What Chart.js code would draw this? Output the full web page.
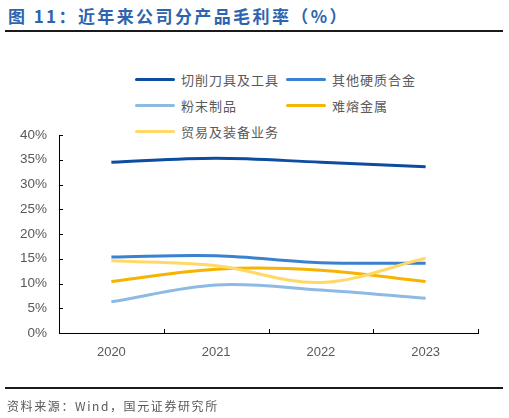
<!DOCTYPE html>
<html>
<head>
<meta charset="utf-8">
<script src="https://cdn.jsdelivr.net/npm/chart.js@4"></script>
<style>
  body { margin: 0; width: 509px; height: 418px; background: #fff; position: relative; overflow: hidden; font-family: "Noto Sans CJK SC", sans-serif; }
  #title { position: absolute; left: 8px; top: 3px; font-size: 17px; font-weight: bold; color: #2E64AE; letter-spacing: 2.4px; white-space: nowrap; }
  .rule { position: absolute; left: 5px; width: 498px; height: 2px; background: #1a1a1a; }
  #source { position: absolute; left: 7px; top: 397px; font-size: 12px; color: #595959; white-space: nowrap; letter-spacing: 1.6px; }
  #legend { position: absolute; left: 135px; top: 70px; width: 320px; }
  .item { position: absolute; height: 18px; display: flex; align-items: center; font-size: 13px; color: #595959; white-space: nowrap; letter-spacing: 1px; }
  .item span.swatch { display: inline-block; width: 40px; height: 3px; border-radius: 2px; margin-right: 6px; }
  #wrap { position: absolute; left: 0; top: 0; width: 509px; height: 418px; }
</style>
</head>
<body>
<div id="title">图 11：近年来公司分产品毛利率（%）</div>
<div class="rule" style="top:30px"></div>
<div id="legend"></div>
<div id="wrap"><canvas id="chart1" width="509" height="418"></canvas></div>
<div class="rule" style="top:387px"></div>
<div id="source">资料来源：Wind，国元证券研究所</div>

<script>
// 数据
const years = ['2020', '2021', '2022', '2023'];
const seriesNames = ['切削刀具及工具', '其他硬质合金', '粉末制品', '难熔金属', '贸易及装备业务'];
const cuttingTools = [34.5, 35.3, 34.5, 33.6];
const otherCarbide = [15.35, 15.6, 14.2, 14.1];
const powderProducts = [6.3, 9.7, 8.7, 7.0];
const refractoryMetals = [10.4, 12.9, 12.7, 10.4];
const tradeEquipment = [14.6, 13.6, 10.2, 15.1];
const yTicks = [0, 5, 10, 15, 20, 25, 30, 35, 40];

const colors = ['#0D4C9F', '#3A82CF', '#8DBAE4', '#F6B300', '#FFD966'];
const values = [cuttingTools, otherCarbide, powderProducts, refractoryMetals, tradeEquipment];

// legenda em html (duas colunas)
const legendPos = [[0, 0], [151, 0], [0, 26], [151, 26], [0, 52]];
seriesNames.forEach((name, i) => {
  const el = document.createElement('div');
  el.className = 'item';
  el.style.left = legendPos[i][0] + 'px';
  el.style.top = legendPos[i][1] + 'px';
  el.innerHTML = '<span class="swatch" style="background:' + colors[i] + '"></span>' + name;
  document.getElementById('legend').appendChild(el);
});

// marcas internas nos eixos
const innerTicks = {
  id: 'innerTicks',
  afterDraw(chart) {
    const ctx = chart.ctx;
    const xs = chart.scales.x;
    const ys = chart.scales.y;
    const area = chart.chartArea;
    ctx.save();
    ctx.strokeStyle = '#000';
    ctx.lineWidth = 1;
    ctx.beginPath();
    for (let i = 0; i <= years.length; i++) {
      const x = Math.round(xs.getPixelForValue(i - 0.5)) + 0.5;
      ctx.moveTo(x, area.bottom);
      ctx.lineTo(x, area.bottom - 4);
    }
    yTicks.forEach(v => {
      const y = Math.round(ys.getPixelForValue(v)) + 0.5;
      ctx.moveTo(area.left, y);
      ctx.lineTo(area.left + 4, y);
    });
    ctx.stroke();
    ctx.restore();
  }
};

new Chart(
  document.getElementById('chart1'),
  {
    type: 'line',
    data: {
      labels: years,
      datasets: seriesNames.map((name, i) => ({
        label: name,
        data: values[i],
        borderColor: colors[i],
        backgroundColor: colors[i],
        borderWidth: 3,
        pointRadius: 0,
        tension: 0.35,
        fill: false,
        order: i === 4 ? 0 : 5 - i
      }))
    },
    options: {
      responsive: false,
      animation: false,
      devicePixelRatio: 1,
      layout: { padding: { top: 135, left: 0, right: 31, bottom: 55 } },
      plugins: { legend: { display: false }, tooltip: { enabled: false } },
      scales: {
        x: {
          type: 'category',
          offset: true,
          afterFit: s => { s.height = 30; },
          grid: { display: false, offset: true, drawTicks: false },
          border: { display: true, color: '#000', width: 1 },
          ticks: { padding: 12, color: '#595959', font: { family: 'Liberation Sans', size: 13 } }
        },
        y: {
          min: 0,
          max: 40,
          afterFit: s => { s.width = 59; },
          afterBuildTicks: s => { s.ticks = yTicks.map(v => ({ value: v })); },
          grid: { display: false, drawTicks: false },
          border: { display: true, color: '#000', width: 1 },
          ticks: {
            padding: 12,
            color: '#595959',
            font: { family: 'Liberation Sans', size: 13.5 },
            callback: v => v + '%'
          }
        }
      }
    },
    plugins: [innerTicks]
  }
);
</script>
</body>
</html>
